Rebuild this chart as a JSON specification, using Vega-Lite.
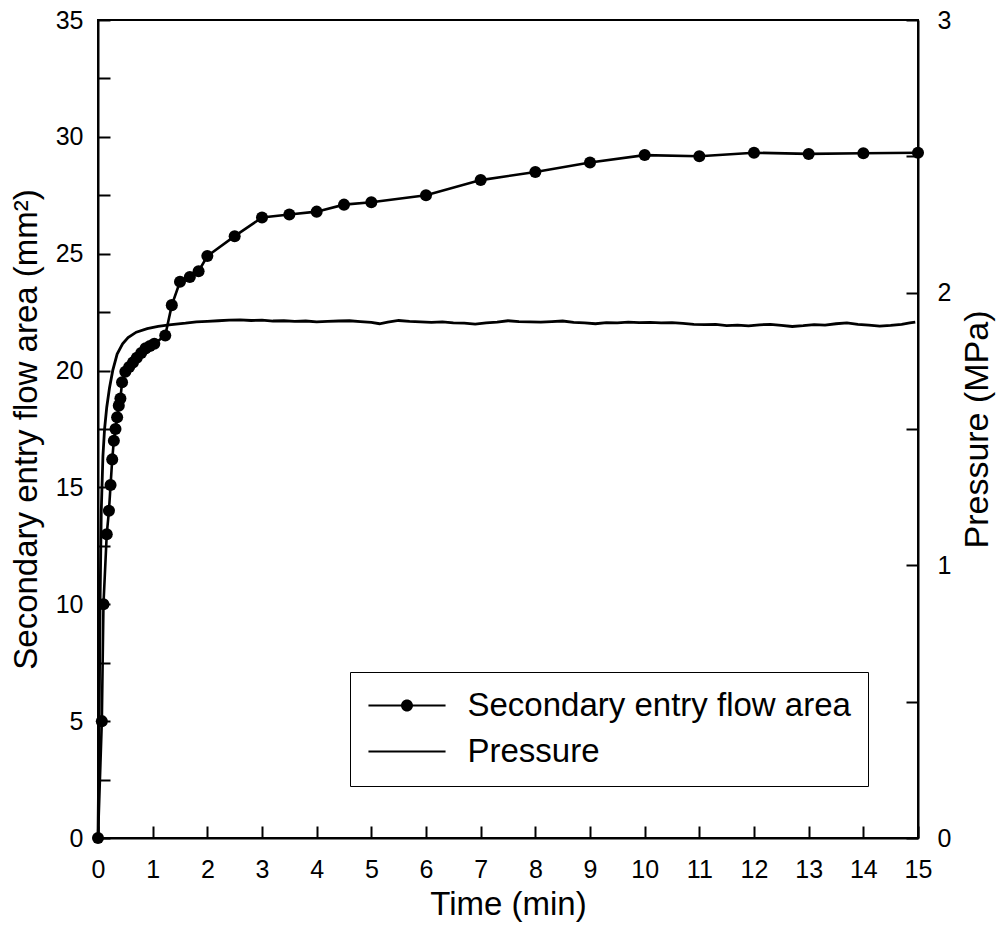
{
  "$schema": "https://vega.github.io/schema/vega-lite/v6.json",
  "width": 820,
  "height": 818,
  "autosize": "none",
  "padding": {"left": 98, "top": 20, "right": 85, "bottom": 90},
  "background": "white",
  "config": {
    "view": {"stroke": "black", "strokeWidth": 2},
    "font": "Liberation Sans",
    "axis": {
      "grid": false,
      "domainColor": "black",
      "domainWidth": 2,
      "tickColor": "black",
      "tickWidth": 2,
      "tickSize": -12,
      "labelColor": "black",
      "titleColor": "black",
      "labelFont": "Liberation Sans",
      "titleFont": "Liberation Sans",
      "labelFontSize": 25,
      "titleFontSize": 33,
      "titleFontWeight": "normal",
      "labelFlush": false,
      "labelOverlap": false
    },
    "legend": {
      "orient": "none",
      "legendX": 252,
      "legendY": 652,
      "strokeColor": "black",
      "strokeWidth": 1,
      "padding": 17,
      "fillColor": "white",
      "labelFont": "Liberation Sans",
      "labelFontSize": 33,
      "labelColor": "black",
      "labelLimit": 0,
      "symbolSize": 900,
      "symbolOffset": 23.5,
      "labelOffset": 44,
      "rowPadding": 12,
      "titlePadding": 0
    }
  },
  "datasets": {
    "area": [
      {"t": 0, "area": 0},
      {"t": 0.07, "area": 5},
      {"t": 0.1, "area": 10},
      {"t": 0.16, "area": 13},
      {"t": 0.2, "area": 14},
      {"t": 0.23, "area": 15.1},
      {"t": 0.26, "area": 16.2},
      {"t": 0.29, "area": 17},
      {"t": 0.32, "area": 17.5},
      {"t": 0.35, "area": 18},
      {"t": 0.38, "area": 18.5},
      {"t": 0.41, "area": 18.8},
      {"t": 0.44, "area": 19.5},
      {"t": 0.5, "area": 19.95},
      {"t": 0.57, "area": 20.15},
      {"t": 0.64, "area": 20.35},
      {"t": 0.71, "area": 20.55},
      {"t": 0.79, "area": 20.75},
      {"t": 0.87, "area": 20.95},
      {"t": 0.95, "area": 21.05},
      {"t": 1.03, "area": 21.15},
      {"t": 1.23, "area": 21.5},
      {"t": 1.35, "area": 22.8},
      {"t": 1.5, "area": 23.8},
      {"t": 1.68, "area": 24.0},
      {"t": 1.84, "area": 24.25},
      {"t": 2.0, "area": 24.9},
      {"t": 2.5, "area": 25.75},
      {"t": 3, "area": 26.55},
      {"t": 3.5, "area": 26.68},
      {"t": 4, "area": 26.8},
      {"t": 4.5, "area": 27.1},
      {"t": 5, "area": 27.2},
      {"t": 6, "area": 27.5},
      {"t": 7, "area": 28.15},
      {"t": 8, "area": 28.5},
      {"t": 9, "area": 28.9},
      {"t": 10, "area": 29.22},
      {"t": 11, "area": 29.17},
      {"t": 12, "area": 29.32},
      {"t": 13, "area": 29.27},
      {"t": 14, "area": 29.3},
      {"t": 15, "area": 29.32}
    ],
    "pressure": [
      {"t": 0, "p": 0},
      {"t": 0.02, "p": 0.4},
      {"t": 0.04, "p": 0.9},
      {"t": 0.06, "p": 1.2},
      {"t": 0.09, "p": 1.4},
      {"t": 0.12, "p": 1.5},
      {"t": 0.16, "p": 1.58},
      {"t": 0.21, "p": 1.65},
      {"t": 0.27, "p": 1.715},
      {"t": 0.35, "p": 1.775},
      {"t": 0.45, "p": 1.812},
      {"t": 0.55, "p": 1.835},
      {"t": 0.7, "p": 1.855},
      {"t": 0.9, "p": 1.868},
      {"t": 1.1, "p": 1.876},
      {"t": 1.3, "p": 1.882},
      {"t": 1.6, "p": 1.888},
      {"t": 1.8, "p": 1.893},
      {"t": 2.0, "p": 1.895},
      {"t": 2.2, "p": 1.897},
      {"t": 2.4, "p": 1.899},
      {"t": 2.6, "p": 1.9},
      {"t": 2.8, "p": 1.898},
      {"t": 3.0, "p": 1.899},
      {"t": 3.2, "p": 1.896},
      {"t": 3.4, "p": 1.897},
      {"t": 3.6, "p": 1.895},
      {"t": 3.8, "p": 1.896},
      {"t": 4.0, "p": 1.893},
      {"t": 4.2, "p": 1.895},
      {"t": 4.4, "p": 1.896},
      {"t": 4.6, "p": 1.897},
      {"t": 4.8, "p": 1.894},
      {"t": 5.0, "p": 1.891},
      {"t": 5.15, "p": 1.886},
      {"t": 5.3, "p": 1.892},
      {"t": 5.5, "p": 1.898},
      {"t": 5.7, "p": 1.895},
      {"t": 5.9, "p": 1.893},
      {"t": 6.1, "p": 1.891},
      {"t": 6.3, "p": 1.893},
      {"t": 6.5, "p": 1.889},
      {"t": 6.7, "p": 1.888},
      {"t": 6.9, "p": 1.885},
      {"t": 7.1, "p": 1.889},
      {"t": 7.3, "p": 1.892},
      {"t": 7.5, "p": 1.897},
      {"t": 7.7, "p": 1.894},
      {"t": 7.9, "p": 1.893},
      {"t": 8.1, "p": 1.892},
      {"t": 8.3, "p": 1.894},
      {"t": 8.5, "p": 1.896},
      {"t": 8.7, "p": 1.891},
      {"t": 8.9, "p": 1.889},
      {"t": 9.1, "p": 1.886},
      {"t": 9.3, "p": 1.89},
      {"t": 9.5, "p": 1.889},
      {"t": 9.7, "p": 1.892},
      {"t": 9.9, "p": 1.89},
      {"t": 10.1, "p": 1.891},
      {"t": 10.3, "p": 1.889},
      {"t": 10.5, "p": 1.89},
      {"t": 10.7, "p": 1.887},
      {"t": 10.9, "p": 1.884},
      {"t": 11.1, "p": 1.883},
      {"t": 11.3, "p": 1.884},
      {"t": 11.5, "p": 1.879},
      {"t": 11.7, "p": 1.881},
      {"t": 11.9, "p": 1.878},
      {"t": 12.1, "p": 1.882},
      {"t": 12.3, "p": 1.884},
      {"t": 12.5, "p": 1.88},
      {"t": 12.7, "p": 1.876},
      {"t": 12.9, "p": 1.879},
      {"t": 13.1, "p": 1.883},
      {"t": 13.3, "p": 1.881},
      {"t": 13.5, "p": 1.886},
      {"t": 13.7, "p": 1.889},
      {"t": 13.9, "p": 1.884},
      {"t": 14.1, "p": 1.881},
      {"t": 14.3, "p": 1.877},
      {"t": 14.5, "p": 1.88},
      {"t": 14.7, "p": 1.884},
      {"t": 14.85, "p": 1.889},
      {"t": 14.95, "p": 1.892}
    ],
    "legendItems": [
      {"series": "Secondary entry flow area"},
      {"series": "Pressure"}
    ]
  },
  "layer": [
    {
      "data": {"name": "area"},
      "layer": [
        {
          "mark": {"type": "line", "color": "black", "strokeWidth": 2.6},
          "encoding": {
            "x": {
              "field": "t", "type": "quantitative",
              "scale": {"domain": [0, 15], "nice": false},
              "axis": {
                "title": "Time (min)",
                "values": [0,1,2,3,4,5,6,7,8,9,10,11,12,13,14,15],
                "labelPadding": 31,
                "titlePadding": 6
              }
            },
            "y": {
              "field": "area", "type": "quantitative",
              "scale": {"domain": [0, 35], "nice": false},
              "axis": {
                "title": "Secondary entry flow area (mm²)",
                "orient": "left",
                "values": [0,2.5,5,7.5,10,12.5,15,17.5,20,22.5,25,27.5,30,32.5,35],
                "labelExpr": "datum.value % 5 === 0 ? format(datum.value, 'd') : ''",
                "labelPadding": 27,
                "titlePadding": 12,
                "encode": {"ticks": {"update": {"x2": {"signal": "datum.value % 5 === 0 ? 12 : 6"}}}}
              }
            }
          }
        },
        {
          "mark": {"type": "circle", "color": "black", "size": 145, "opacity": 1},
          "encoding": {
            "x": {"field": "t", "type": "quantitative"},
            "y": {"field": "area", "type": "quantitative"}
          }
        }
      ]
    },
    {
      "data": {"name": "pressure"},
      "mark": {"type": "line", "color": "black", "strokeWidth": 2.8},
      "encoding": {
        "x": {"field": "t", "type": "quantitative"},
        "y": {
          "field": "p", "type": "quantitative",
          "scale": {"domain": [0, 3], "nice": false},
          "axis": {
            "title": "Pressure (MPa)",
            "orient": "right",
            "values": [0,0.5,1,1.5,2,2.5,3],
            "labelExpr": "datum.value % 1 === 0 ? format(datum.value, 'd') : ''",
            "labelPadding": 31,
            "titlePadding": 10,
            "titleFontSize": 34,
            "titleAngle": 270,
            "titleBaseline": "top",
            "encode": {"ticks": {"update": {"x2": {"signal": "datum.value % 1 === 0 ? -12 : -6"}}}}
          }
        }
      }
    },
    {
      "data": {"name": "legendItems"},
      "mark": {"type": "point", "filled": true, "color": "black", "opacity": 0},
      "encoding": {
        "shape": {
          "field": "series", "type": "nominal",
          "scale": {
            "domain": ["Secondary entry flow area", "Pressure"],
            "range": [
              "M-2.57,-0.067L2.57,-0.067L2.57,0.067L-2.57,0.067ZM-0.4,0A0.4,0.4,0,1,1,0.4,0A0.4,0.4,0,1,1,-0.4,0Z",
              "M-2.57,-0.067L2.57,-0.067L2.57,0.067L-2.57,0.067Z"
            ]
          },
          "legend": {
            "title": null,
            "encode": {
              "symbols": {
                "update": {
                  "fill": {"value": "black"},
                  "opacity": {"value": 1}
                }
              }
            }
          }
        }
      }
    }
  ],
  "resolve": {"scale": {"y": "independent"}}
}
